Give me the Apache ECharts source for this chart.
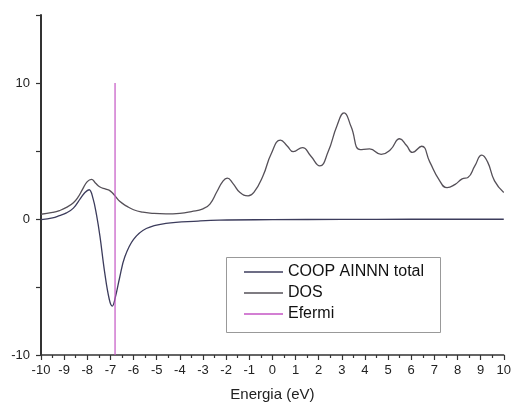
<!DOCTYPE html>
<html>
<head>
<meta charset="utf-8">
<script src="https://cdn.jsdelivr.net/npm/echarts@6/dist/echarts.min.js"></script>
<style>
  html, body { margin: 0; padding: 0; background: #fff; }
  #chart { width: 514px; height: 410px; }
</style>
</head>
<body>
<div id="chart"></div>
<script>
// Density of states (eV vs states)
const dosEnergy = [-10, -9.5, -9.2, -8.9, -8.6, -8.4, -8.2, -8.0, -7.82, -7.65, -7.45, -7.2, -7.0, -6.8, -6.6, -6.3, -6.0, -5.6, -5.2, -4.6, -4.0, -3.5, -3.0, -2.7, -2.4, -2.15, -1.95, -1.7, -1.4, -1.05, -0.8, -0.4, -0.05, 0.35, 0.65, 0.9, 1.3, 1.65, 2.05, 2.4, 2.8, 3.1, 3.4, 3.8, 4.2, 4.7, 5.1, 5.5, 5.8, 6.05, 6.45, 6.8, 7.2, 7.55, 7.9, 8.2, 8.45, 8.75, 9.05, 9.3, 9.6, 10];
const dosValues = [0.35, 0.48, 0.62, 0.85, 1.2, 1.6, 2.2, 2.75, 2.92, 2.65, 2.35, 2.2, 2.05, 1.7, 1.3, 0.95, 0.68, 0.5, 0.42, 0.38, 0.42, 0.55, 0.75, 1.1, 2.0, 2.75, 3.0, 2.6, 1.95, 1.7, 1.95, 3.2, 4.8, 5.8, 5.35, 4.95, 5.25, 4.65, 3.9, 4.9, 6.9, 7.8, 6.8, 5.1, 5.15, 4.75, 5.1, 5.9, 5.4, 4.9, 5.35, 4.2, 2.9, 2.3, 2.55, 2.95, 3.05, 3.9, 4.7, 4.2, 2.8, 1.95];

// Crystal orbital overlap population, Al–N nearest neighbours
const coopEnergy = [-10, -9.5, -9.2, -8.9, -8.6, -8.3, -8.1, -7.92, -7.75, -7.6, -7.45, -7.25, -7.05, -6.92, -6.78, -6.6, -6.38, -6.0, -5.45, -4.6, -3.2, -2.3, 0, 3, 6, 10];
const coopValues = [-0.05, 0.08, 0.25, 0.45, 0.8, 1.5, 1.95, 2.15, 1.5, 0.3, -1.3, -3.9, -5.9, -6.4, -5.7, -4.3, -2.8, -1.5, -0.7, -0.32, -0.15, -0.08, -0.05, -0.03, -0.02, -0.02];

// Fermi level marker
const fermiEnergy = -6.8;
const fermiSpan = [-10, 10];

const xTicks = { min: -10, max: 10, step: 1 };
const yTicks = { min: -10, max: 15, step: 5, labelled: [-10, 0, 10] };

const pairs = (xs, ys) => xs.map((x, i) => [x, ys[i]]);

const chart = echarts.init(document.getElementById('chart'), null, { renderer: 'canvas' });
const font = '"Liberation Sans", Arial, Helvetica, sans-serif';

chart.setOption({
  animation: false,
  backgroundColor: '#ffffff',
  textStyle: { fontFamily: font },
  grid: { left: 41, right: 9, top: 15, bottom: 55, containLabel: false },
  xAxis: {
    type: 'value',
    min: xTicks.min, max: xTicks.max, interval: xTicks.step,
    name: 'Energia (eV)', nameLocation: 'middle', nameGap: 32,
    nameTextStyle: { fontSize: 15, color: '#222', fontFamily: font },
    axisLine: { onZero: false, lineStyle: { color: '#333', width: 1.5 } },
    axisTick: { inside: false, length: 5, lineStyle: { color: '#333', width: 1.2 } },
    minorTick: { show: true, splitNumber: 2, length: 3, lineStyle: { color: '#333', width: 1.2 } },
    splitLine: { show: false },
    axisLabel: { fontSize: 13, color: '#222', margin: 9, fontFamily: font, showMinLabel: true, showMaxLabel: true }
  },
  yAxis: {
    type: 'value',
    min: yTicks.min, max: yTicks.max, interval: yTicks.step,
    axisLine: { onZero: false, lineStyle: { color: '#333', width: 2 } },
    axisTick: { inside: false, length: 5, lineStyle: { color: '#333', width: 1.2 } },
    splitLine: { show: false },
    axisLabel: {
      fontSize: 13, color: '#222', margin: 11, fontFamily: font,
      formatter: v => (yTicks.labelled.includes(v) ? String(v) : '')
    }
  },
  legend: {
    orient: 'vertical', left: 244, top: 263,
    padding: 0, itemGap: 3, itemWidth: 39, itemHeight: 1.3,
    icon: 'rect',
    textStyle: { fontSize: 16, color: '#111', fontFamily: font, lineHeight: 18 },
    data: ['COOP AINNN total', 'DOS', 'Efermi']
  },
  graphic: [{
    type: 'rect', left: 224, top: 255, z: -1,
    shape: { width: 214, height: 75 },
    style: { fill: 'none', stroke: '#999', lineWidth: 1 }
  }],
  series: [
    {
      name: 'COOP AINNN total', type: 'line', smooth: 0.4, symbol: 'none',
      lineStyle: { color: '#3c3c5c', width: 1.3 }, itemStyle: { color: '#3c3c5c' },
      data: pairs(coopEnergy, coopValues)
    },
    {
      name: 'DOS', type: 'line', smooth: 0.5, symbol: 'none',
      lineStyle: { color: '#555058', width: 1.3 }, itemStyle: { color: '#555058' },
      data: pairs(dosEnergy, dosValues)
    },
    {
      name: 'Efermi', type: 'line', symbol: 'none',
      lineStyle: { color: '#c455c4', width: 1.2 }, itemStyle: { color: '#c455c4' },
      data: fermiSpan.map(v => [fermiEnergy, v])
    }
  ]
});
</script>
</body>
</html>
